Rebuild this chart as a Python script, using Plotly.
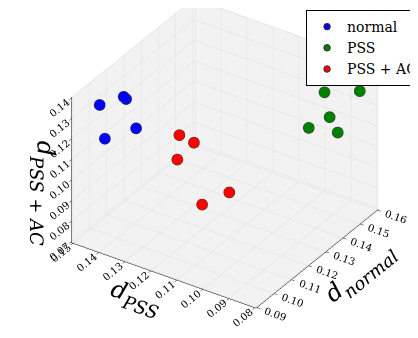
import math
import plotly.graph_objects as go

# ---- data ----
series_names = ["normal", "PSS", "PSS + AC"]
series_colors = ["rgb(0,0,255)", "rgb(0,128,0)", "rgb(255,0,0)"]

normal_d_normal = [0.1005, 0.1075, 0.1110, 0.1040, 0.1020]
normal_d_pss    = [0.1470, 0.1424, 0.1438, 0.1353, 0.1460]
normal_d_pssac  = [0.1308, 0.1321, 0.1280, 0.1223, 0.1138]

pss_d_normal = [0.1530, 0.1575, 0.1495, 0.1425, 0.1530]
pss_d_pss    = [0.0953, 0.0847, 0.0910, 0.0944, 0.0902]
pss_d_pssac  = [0.1246, 0.1269, 0.1168, 0.1148, 0.1073]

pssac_d_normal = [0.1332, 0.1356, 0.1314, 0.1350, 0.1277]
pssac_d_pss    = [0.1380, 0.1340, 0.1376, 0.1200, 0.1256]
pssac_d_pssac  = [0.0980, 0.0945, 0.0875, 0.0770, 0.0735]

x_ticks = [0.09, 0.10, 0.11, 0.12, 0.13, 0.14, 0.15, 0.16]
y_ticks = [0.08, 0.09, 0.10, 0.11, 0.12, 0.13, 0.14, 0.15]
z_ticks = [0.07, 0.08, 0.09, 0.10, 0.11, 0.12, 0.13, 0.14]

xs = [normal_d_normal, pss_d_normal, pssac_d_normal]
ys = [normal_d_pss, pss_d_pss, pssac_d_pss]
zs = [normal_d_pssac, pss_d_pssac, pssac_d_pssac]

fig = go.Figure()
for name, col, x, y, z in zip(series_names, series_colors, xs, ys, zs):
    fig.add_trace(go.Scatter3d(
        x=x, y=y, z=z, mode="markers", name=name,
        marker=dict(size=6.5, color=col, opacity=1,
                    line=dict(color="rgb(50,50,50)", width=1)),
    ))

FONT = "DejaVu Serif"
def axis(title, ticks):
    return dict(
        title=dict(text=title, font=dict(family=FONT, size=24, color="black")),
        range=[ticks[0] - 0.0005, ticks[-1] + 0.0005],
        tickvals=ticks, ticktext=["%.2f" % t for t in ticks],
        tickfont=dict(family=FONT, size=11, color="black"),
        showbackground=True, backgroundcolor="rgb(242,242,242)",
        gridcolor="rgb(222,222,222)", gridwidth=1,
        showline=True, linecolor="black", linewidth=1,
        ticks="outside", ticklen=4, tickcolor="black",
        zeroline=False, showspikes=False,
    )

az = math.radians(32)
el = math.radians(28.3)
dist = 2.0
eye = dict(x=-dist * math.cos(el) * math.cos(az),
           y=-dist * math.cos(el) * math.sin(az),
           z=dist * math.sin(el))
R = (math.sin(az), -math.cos(az), 0.0)
U = (math.sin(el) * math.cos(az), math.sin(el) * math.sin(az), math.cos(el))
p = 155.0
dx_px, dy_px = 7.0, 22.0
center = dict(x=-(dx_px / p) * R[0] - (dy_px / p) * U[0],
              y=-(dx_px / p) * R[1] - (dy_px / p) * U[1],
              z=-(dx_px / p) * R[2] - (dy_px / p) * U[2])

S = 1.31
fig.update_layout(
    width=418, height=338,
    margin=dict(l=0, r=0, t=0, b=0),
    paper_bgcolor="white",
    font=dict(family=FONT, color="black"),
    scene=dict(
        domain=dict(x=[0.0, 1.0], y=[0.0, 1.0]),
        xaxis=axis("<i>d<sub>normal</sub></i>", x_ticks),
        yaxis=axis("<i>d<sub>PSS</sub></i>", y_ticks),
        zaxis=axis("<i>d<sub>PSS + AC</sub></i>", z_ticks),
        aspectmode="manual", aspectratio=dict(x=S, y=S, z=0.78 * S),
        camera=dict(eye=eye, up=dict(x=0, y=0, z=1),
                    center=center,
                    projection=dict(type="orthographic")),
    ),
    legend=dict(x=0.713, y=0.994, xanchor="left", yanchor="top",
                bgcolor="white", bordercolor="black", borderwidth=1,
                font=dict(family=FONT, size=14, color="black")),
)

fig.write_html("out.html")
